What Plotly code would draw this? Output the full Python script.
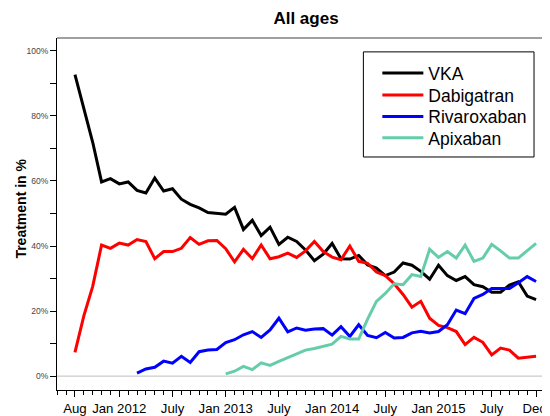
import pandas as pd
import plotly.graph_objects as go

# Monthly categories: Aug 2011 .. Dec 2015
months = [str(p) for p in pd.period_range("2011-08", "2015-12", freq="M")]

vka = [92.7, 82.0, 71.9, 59.7, 60.7, 59.1, 59.7, 57.1, 56.3, 60.9,
       56.9, 57.6, 54.4, 52.8, 51.7, 50.3, 50.0, 49.8, 51.9, 45.1,
       47.9, 43.2, 45.8, 40.5, 42.7, 41.4, 38.8, 35.5, 37.5, 40.8,
       36.1, 36.0, 37.1, 34.2, 33.2, 30.9, 32.0, 34.8, 34.1, 32.2,
       29.8, 34.1, 30.9, 29.4, 30.6, 28.1, 27.5, 25.8, 25.8, 28.0,
       29.0, 24.6, 23.5]

dabigatran = [7.3, 18.5, 27.6, 40.3, 39.3, 40.9, 40.3, 42.0, 41.4, 36.1,
              38.3, 38.3, 39.3, 42.6, 40.5, 41.6, 41.7, 39.2, 35.1, 39.0,
              36.1, 40.3, 36.1, 36.7, 37.8, 36.5, 38.5, 41.4, 38.3, 36.6,
              35.8, 40.0, 35.3, 34.7, 32.0, 30.9, 28.4, 25.1, 21.2, 23.0,
              17.8, 15.6, 14.9, 13.7, 9.7, 11.9, 10.4, 6.5, 8.6, 8.0,
              5.5, 5.8, 6.1]

rivaroxaban = [None, None, None, None, None, None, None, 0.9, 2.2, 2.7,
               4.6, 4.0, 6.1, 4.2, 7.5, 8.0, 8.2, 10.3, 11.2, 12.7,
               13.7, 11.9, 14.2, 17.8, 13.6, 14.8, 14.1, 14.5, 14.6, 12.6,
               15.2, 12.2, 15.8, 12.5, 11.8, 13.4, 11.7, 11.9, 13.3, 13.8,
               13.3, 13.7, 15.8, 20.3, 19.2, 23.9, 25.1, 26.9, 26.8, 26.9,
               28.7, 30.6, 29.1]

apixaban = [None, None, None, None, None, None, None, None, None, None,
            None, None, None, None, None, None, None, 0.7, 1.5, 3.0,
            2.0, 4.1, 3.3, 4.5, 5.7, 7.0, 8.0, 8.5, 9.1, 9.8,
            12.2, 11.4, 11.4, 17.5, 23.0, 25.4, 28.4, 28.1, 31.2, 30.6,
            39.0, 36.5, 38.3, 36.3, 40.3, 35.3, 36.3, 40.5, 38.5, 36.3,
            36.3, 38.6, 40.8]

series_names = ["VKA", "Dabigatran", "Rivaroxaban", "Apixaban"]
series_values = [vka, dabigatran, rivaroxaban, apixaban]
series_colors = ["#000000", "#FF0000", "#0000FF", "#66CDAA"]

tick_months = ["2011-08", "2012-01", "2012-07", "2013-01", "2013-07",
               "2014-01", "2014-07", "2015-01", "2015-07", "2015-12"]
tick_labels = ["Aug", "Jan 2012", "July", "Jan 2013", "July",
               "Jan 2014", "July", "Jan 2015", "July", "Dec\u00a0"]

y_ticks = [0, 20, 40, 60, 80, 100]
y_tick_labels = [f"{v}%" for v in y_ticks]

x_idx = list(range(len(months)))
tick_idx = [months.index(m) for m in tick_months]

FONT = "Liberation Sans, Arial, Helvetica, sans-serif"

# The page body has an 8px margin; the figure is sized so it fills the window.
OFF = 8
W, H = 550 - OFF, 416 - OFF
L, R, T, B = 57 - OFF, 0, 38 - OFF, 416 - 393
PW, PH = W - L - R, H - T - B


def px_x(xw):   # window x -> paper x
    return (xw - OFF - L) / PW


def px_y(yw):   # window y -> paper y
    return (H - B - (yw - OFF)) / PH


legend_ids = ["legend", "legend2", "legend3", "legend4"]
legend_rows = [73.5, 95.5, 117.3, 138.7]

fig = go.Figure()
for name, vals, col, lid in zip(series_names, series_values, series_colors, legend_ids):
    fig.add_trace(go.Scatter(x=x_idx, y=vals, mode="lines", name=name,
                             line=dict(color=col, width=3),
                             connectgaps=False, legend=lid))

legend_layout = {}
for lid, row in zip(legend_ids, legend_rows):
    legend_layout[lid] = dict(
        x=px_x(378), y=px_y(row), xanchor="left", yanchor="middle",
        bgcolor="rgba(0,0,0,0)", borderwidth=0,
        font=dict(size=17.5, family=FONT, color="black"),
        itemwidth=41)

fig.update_layout(
    width=W, height=H,
    margin=dict(l=L, r=R, t=T, b=B, pad=0),
    paper_bgcolor="white", plot_bgcolor="white",
    font=dict(family=FONT, color="black"),
    title=dict(text="All ages", x=(306 - OFF) / W, xref="container", xanchor="center",
               y=1 - (18 - OFF) / H, yref="container", yanchor="middle",
               font=dict(size=17, family=FONT, weight="bold", color="black")),
    showlegend=True,
    xaxis=dict(range=[-2.026, 53.46], showgrid=False, zeroline=False,
               showline=True, linecolor="black", linewidth=1,
               tickmode="array", tickvals=tick_idx, ticktext=tick_labels,
               ticks="outside", ticklen=6, tickcolor="black", tickwidth=1,
               tickfont=dict(size=13.2, family=FONT, color="black"),
               ticklabeloverflow="allow",
               minor=dict(dtick=1, tick0=0, ticks="outside", ticklen=3.5,
                          tickcolor="black", tickwidth=1, showgrid=False)),
    yaxis=dict(range=[-4.27, 103.96], showgrid=False, zeroline=False,
               showline=True, linecolor="black", linewidth=1,
               tickmode="array", tickvals=y_ticks, ticktext=y_tick_labels,
               ticks="outside", ticklen=6, tickcolor="black", tickwidth=1,
               tickfont=dict(size=8.5, family=FONT, color="#444444"),
               minor=dict(dtick=10, tick0=0, ticks="outside", ticklen=6,
                          tickcolor="black", tickwidth=1, showgrid=False)),
    shapes=[
        dict(type="line", xref="paper", x0=0, x1=1, yref="y", y0=0, y1=0,
             line=dict(color="#BEBEBE", width=1), layer="below"),
        dict(type="line", xref="paper", x0=0, x1=1, yref="paper", y0=1, y1=1,
             line=dict(color="#808080", width=1.5), layer="below"),
        dict(type="rect", xref="paper", yref="paper",
             x0=px_x(364), x1=px_x(535), y0=px_y(158), y1=px_y(52),
             fillcolor="white", line=dict(color="black", width=1), layer="above"),
    ],
    annotations=[
        dict(text="Treatment in %", textangle=-90, xref="paper", yref="paper",
             x=px_x(20), y=px_y(210), xanchor="center", yanchor="middle",
             showarrow=False,
             font=dict(size=14, family=FONT, weight="bold", color="black")),
    ],
    **legend_layout,
)

fig.write_html("out.html")
